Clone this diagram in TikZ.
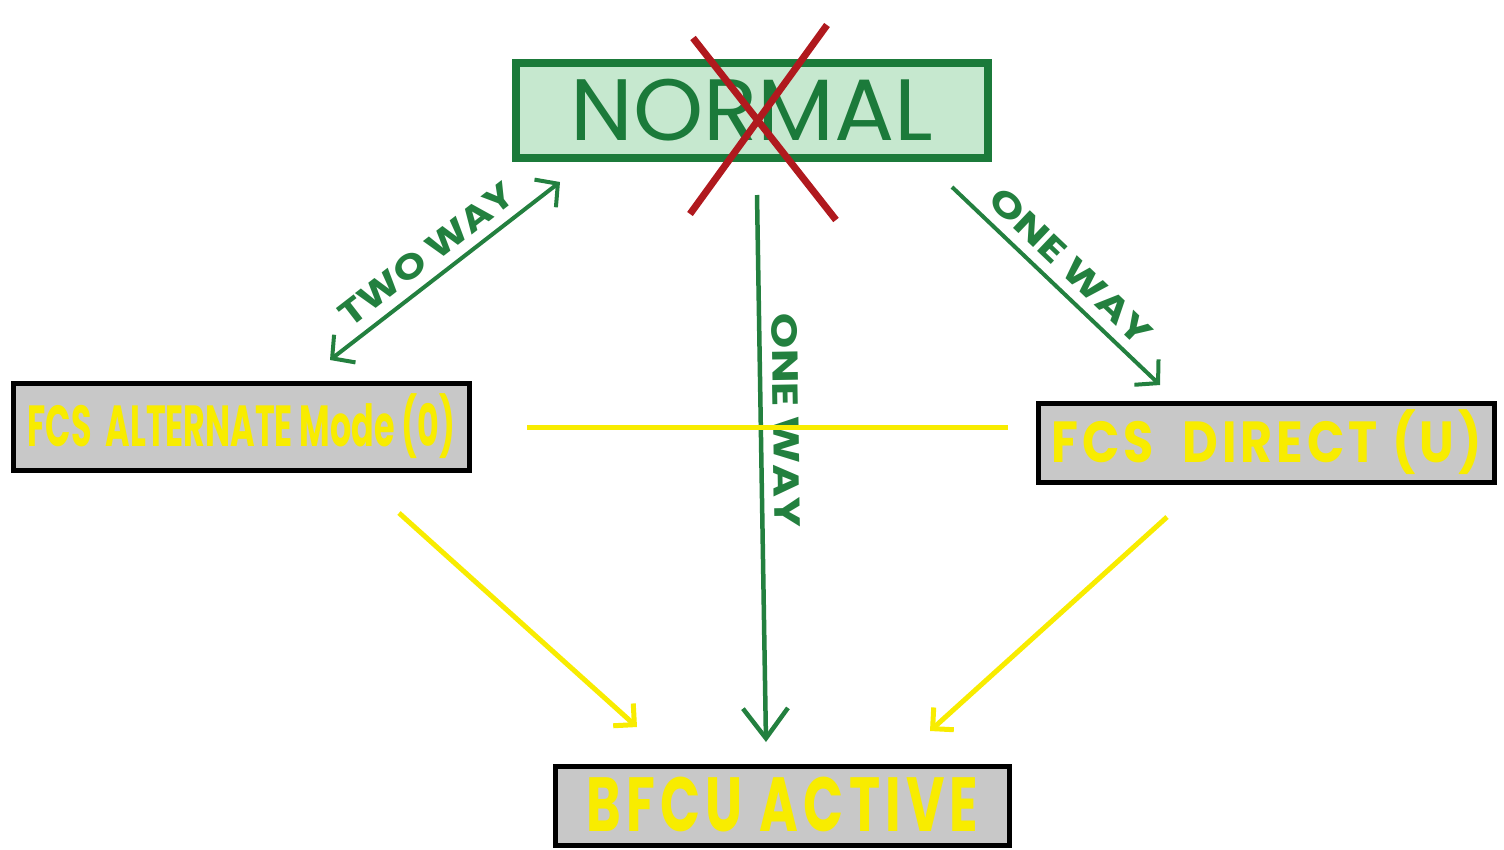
\documentclass[tikz,border=0pt]{standalone}
\usepackage{fontspec}
\setmainfont{Poppins}
\usetikzlibrary{arrows.meta}
\definecolor{gfill}{HTML}{C6E8CF}
\definecolor{gdark}{HTML}{1B7A3A}
\definecolor{gline}{HTML}{23803F}
\definecolor{ylw}{HTML}{F8EC00}
\definecolor{gry}{HTML}{C8C8C8}
\definecolor{xred}{HTML}{B0191E}
\newcommand\rsz[3]{\resizebox*{#1}{#2}{#3}}
\begin{document}
\begin{tikzpicture}[x=0.02cm,y=-0.02cm,
  greybox/.style={draw=black, fill=gry, line width=0.1cm, minimum width=9.14cm, minimum height=1.58cm, inner sep=0pt, text=ylw, font=\bfseries},
  normalbox/.style={draw=gdark, fill=gfill, line width=0.16cm, minimum width=9.44cm, minimum height=1.9cm, inner sep=0pt, text=gdark},
  garrow/.style={draw=gline, line width=0.08cm, -{Straight Barb[length=0.32cm,width=0.7cm]}},
  gtwo/.style={draw=gline, line width=0.08cm, {Straight Barb[length=0.32cm,width=0.7cm]}-{Straight Barb[length=0.32cm,width=0.7cm]}},
  gbig/.style={draw=gline, line width=0.09cm, -{Straight Barb[length=0.6cm,width=0.9cm]}},
  yarrow/.style={draw=ylw, line width=0.1cm, -{Straight Barb[length=0.3cm,width=0.6cm]}},
  yline/.style={draw=ylw, line width=0.1cm},
  glabel/.style={sloped, anchor=south, inner sep=0.2cm, text=gline, font=\bfseries},
  xline/.style={draw=xred, line width=0.14cm}
]
\useasboundingbox (0,0) rectangle (1504,849);

% boxes
\node[normalbox] (normal) at (752,110.5) {\rsz{7.26cm}{1.24cm}{NORMAL}};
\node[greybox, minimum height=1.74cm] (alt) at (241.5,426.5) {\rsz{8.56cm}{1.3cm}{FCS\ \ ALTERNATE Mode (0)}};
\node[greybox] (direct) at (1266.5,442.5) {\rsz{8.6cm}{1.3cm}{\addfontfeatures{LetterSpace=8}FCS\ \ DIRECT (U)}};
\node[greybox, minimum width=9.1cm] (bfcu) at (782.5,805.5) {\raisebox{0.06cm}{\rsz{7.84cm}{1.1cm}{\addfontfeatures{LetterSpace=10}BFCU\ ACTIVE}}};

% connector end points
\coordinate (twoA) at (330,360);
\coordinate (twoB) at (560,182);
\coordinate (rA) at (952,187);
\coordinate (rB) at (1160,385);
\coordinate (cA) at (757,195);
\coordinate (cB) at (766,742);
\coordinate (hA) at (527,427);
\coordinate (hB) at (1008,427);
\coordinate (ylA) at (399,513);
\coordinate (ylB) at (637,727);
\coordinate (yrA) at (1167,517);
\coordinate (yrB) at (930,731);

% green connectors
\draw[gtwo] (twoA) -- (twoB) node[glabel, pos=0.485] {\rsz{4.22cm}{0.5cm}{TWO WAY}};
\draw[garrow] (rA) -- (rB) node[glabel, pos=0.49] {\rsz{4.2cm}{0.5cm}{ONE WAY}};
\draw[gbig] (cA) -- (cB) node[glabel, pos=0.413] {\rsz{4.28cm}{0.52cm}{ONE WAY}};

% yellow connectors
\draw[yline] (hA) -- (hB);
\draw[yarrow] (ylA) -- (ylB);
\draw[yarrow] (yrA) -- (yrB);

% red cross over NORMAL
\coordinate (x1a) at (693,38);
\coordinate (x1b) at (836,220);
\coordinate (x2a) at (827,25);
\coordinate (x2b) at (690,214);
\draw[xline] (x1a) -- (x1b);
\draw[xline] (x2a) -- (x2b);
\end{tikzpicture}
\end{document}
